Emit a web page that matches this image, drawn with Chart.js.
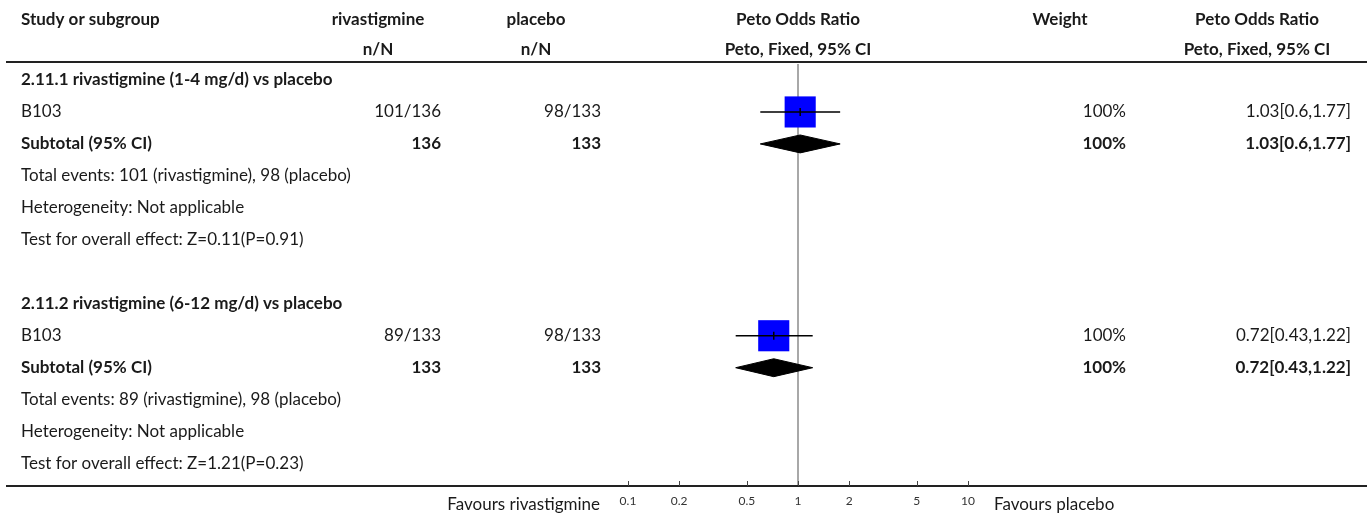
<!DOCTYPE html>
<html>
<head>
<meta charset="utf-8">
<script src="https://cdn.jsdelivr.net/npm/chart.js@4"></script>
<style>
  body { margin: 0; background: #fff; }
  #wrap { width: 1370px; height: 518px; }
</style>
</head>
<body>
<div id="wrap"><canvas id="forest"></canvas></div>
<script>
const groupTitles = ["2.11.1 rivastigmine (1-4 mg/d) vs placebo", "2.11.2 rivastigmine (6-12 mg/d) vs placebo"];
const studyNames = ["B103", "B103"];
const rivaEvents = ["101/136", "89/133"];
const placeboEvents = ["98/133", "98/133"];
const studyWeights = ["100%", "100%"];
const orEstimate = [1.03, 0.72];
const orLower = [0.6, 0.43];
const orUpper = [1.77, 1.22];
const subtotalRiva = ["136", "133"];
const subtotalPlacebo = ["133", "133"];
const subtotalWeights = ["100%", "100%"];
const subtotalEst = [1.03, 0.72];
const subtotalLower = [0.6, 0.43];
const subtotalUpper = [1.77, 1.22];
const totalEvents = ["Total events: 101 (rivastigmine), 98 (placebo)", "Total events: 89 (rivastigmine), 98 (placebo)"];
const heterogeneity = ["Heterogeneity: Not applicable", "Heterogeneity: Not applicable"];
const overallTest = ["Test for overall effect: Z=0.11(P=0.91)", "Test for overall effect: Z=1.21(P=0.23)"];
const tickValues = [0.1, 0.2, 0.5, 1, 2, 5, 10];
const tickLabels = ["0.1", "0.2", "0.5", "1", "2", "5", "10"];

// each subgroup takes 7 rows: title, study, subtotal, events, heterogeneity, test, blank
const ROWS_PER_GROUP = 7;
const rowOf = (g, k) => g * ROWS_PER_GROUP + k;
const fmtCI = (e, l, u) => e + "[" + l + "," + u + "]";

const FONT = "Lato, 'Open Sans', sans-serif";
const TEXT = "#1a1a1a";

const squares = orEstimate.map((v, g) => ({ x: v, y: rowOf(g, 1) }));
const ciLines = [];
orEstimate.forEach((v, g) => {
  ciLines.push({ x: orLower[g], y: rowOf(g, 1) });
  ciLines.push({ x: orUpper[g], y: rowOf(g, 1) });
  ciLines.push({ x: null, y: null });
});
const diamonds = subtotalEst.map((v, g) => {
  const r = rowOf(g, 2);
  const h = 0.28;
  return [
    { x: subtotalLower[g], y: r },
    { x: v, y: r - h },
    { x: subtotalUpper[g], y: r },
    { x: v, y: r + h },
    { x: subtotalLower[g], y: r },
  ];
});

const tablePlugin = {
  id: "forestTable",
  afterDraw(chart) {
    const ctx = chart.ctx;
    const xs = chart.scales.x;
    const ys = chart.scales.y;
    const area = chart.chartArea;
    const W = chart.width;
    const rowY = (r) => ys.getPixelForValue(r);

    ctx.save();
    // header rule and bottom rule
    ctx.strokeStyle = "#222";
    ctx.lineWidth = 2;
    ctx.beginPath();
    ctx.moveTo(6, 62); ctx.lineTo(W - 3, 62);
    ctx.moveTo(6, area.bottom); ctx.lineTo(W - 3, area.bottom);
    ctx.stroke();

    // tick marks pointing up
    ctx.lineWidth = 1;
    ctx.strokeStyle = "#444";
    ctx.beginPath();
    xs.ticks.forEach((t) => {
      const px = Math.round(xs.getPixelForValue(t.value)) + 0.5;
      ctx.moveTo(px, area.bottom);
      ctx.lineTo(px, area.bottom - 5);
    });
    ctx.stroke();

    const text = (s, x, y, align, bold) => {
      ctx.font = (bold ? "bold " : "") + "17px " + FONT;
      ctx.textAlign = align;
      ctx.textBaseline = "middle";
      ctx.fillStyle = TEXT;
      ctx.fillText(s, x, y);
    };

    // column headers
    text("Study or subgroup", 21, 20, "left", true);
    text("rivastigmine", 378, 20, "center", true);
    text("n/N", 378, 50, "center", true);
    text("placebo", 536, 20, "center", true);
    text("n/N", 536, 50, "center", true);
    text("Peto Odds Ratio", 798, 20, "center", true);
    text("Peto, Fixed, 95% CI", 798, 50, "center", true);
    text("Weight", 1060, 20, "center", true);
    text("Peto Odds Ratio", 1257, 20, "center", true);
    text("Peto, Fixed, 95% CI", 1257, 50, "center", true);

    groupTitles.forEach((title, g) => {
      text(title, 21, rowY(rowOf(g, 0)), "left", true);

      const rs = rowY(rowOf(g, 1));
      text(studyNames[g], 21, rs, "left", false);
      text(rivaEvents[g], 441, rs, "right", false);
      text(placeboEvents[g], 601, rs, "right", false);
      text(studyWeights[g], 1126, rs, "right", false);
      text(fmtCI(orEstimate[g], orLower[g], orUpper[g]), 1351, rs, "right", false);

      const rt = rowY(rowOf(g, 2));
      text("Subtotal (95% CI)", 21, rt, "left", true);
      text(subtotalRiva[g], 441, rt, "right", true);
      text(subtotalPlacebo[g], 601, rt, "right", true);
      text(subtotalWeights[g], 1126, rt, "right", true);
      text(fmtCI(subtotalEst[g], subtotalLower[g], subtotalUpper[g]), 1351, rt, "right", true);

      text(totalEvents[g], 21, rowY(rowOf(g, 3)), "left", false);
      text(heterogeneity[g], 21, rowY(rowOf(g, 4)), "left", false);
      text(overallTest[g], 21, rowY(rowOf(g, 5)), "left", false);
    });

    text("Favours rivastigmine", 600, 505, "right", false);
    text("Favours placebo", 994, 505, "left", false);
    ctx.restore();
  },
};

new Chart(document.getElementById("forest"), {
  type: "scatter",
  data: {
    datasets: [
      {
        label: "point ticks",
        data: squares,
        pointStyle: "line",
        rotation: 90,
        pointRadius: 4,
        borderColor: "#000",
        borderWidth: 1.5,
      },
      {
        label: "CI",
        data: ciLines,
        showLine: true,
        spanGaps: false,
        pointRadius: 0,
        borderColor: "#000",
        borderWidth: 1.5,
      },
      {
        label: "studies",
        data: squares,
        pointStyle: "rect",
        pointRadius: 22,
        backgroundColor: "#0000ff",
        borderWidth: 0,
      },
      ...diamonds.map((d, g) => ({
        label: "subtotal " + (g + 1),
        data: d,
        showLine: true,
        fill: "shape",
        pointRadius: 0,
        borderColor: "#000",
        borderWidth: 1,
        backgroundColor: "#000",
      })),
      {
        label: "no effect",
        data: [{ x: 1, y: -0.5 }, { x: 1, y: 12.7 }],
        showLine: true,
        pointRadius: 0,
        borderColor: "#a8a8a8",
        borderWidth: 2,
      },
    ],
  },
  options: {
    responsive: true,
    maintainAspectRatio: false,
    animation: false,
    events: [],
    layout: {
      padding: { left: 628, right: 402, top: 64, bottom: 0 },
    },
    plugins: {
      legend: { display: false },
      tooltip: { enabled: false },
    },
    scales: {
      x: {
        type: "logarithmic",
        min: 0.1,
        max: 10,
        afterBuildTicks: (axis) => {
          axis.ticks = tickValues.map((v) => ({ value: v }));
        },
        afterFit: (axis) => {
          axis.height = 32;
        },
        ticks: {
          autoSkip: false,
          maxRotation: 0,
          padding: 8,
          color: "#333",
          font: { family: FONT, size: 12 },
          callback: (v) => tickLabels[tickValues.indexOf(v)] ?? "",
        },
        grid: { display: false, drawTicks: false },
        border: { display: false },
      },
      y: {
        type: "linear",
        min: -0.5,
        max: 12.7,
        reverse: true,
        display: false,
      },
    },
  },
  plugins: [tablePlugin],
});
</script>
</body>
</html>
